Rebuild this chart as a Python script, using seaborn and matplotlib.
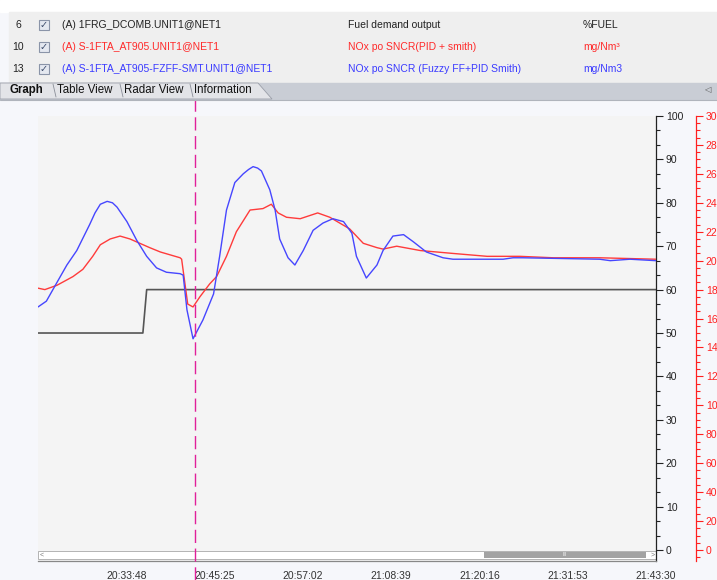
import pandas as pd
import matplotlib.pyplot as plt
from matplotlib.patches import Rectangle, Polygon
from matplotlib.ticker import MultipleLocator
import seaborn as sns

# Dados (tempo em minutos depois de 20:22:11)
inicio = '20:22:11'
fim = '21:43:30'
marcador = '20:42:50'

t_fuel = [0.0, 13.8, 14.3, 81.3]
fuel_demand = [50, 50, 60, 60]

t_pid = [0.0, 0.9, 2.5, 4.6, 5.9, 7.2, 8.2, 9.5, 10.8, 12.1,
         13.4, 14.7, 16.1, 17.4, 18.7, 18.9, 19.7, 20.4, 21.3, 22.6,
         23.5, 24.8, 26.1, 27.9, 29.6, 30.7, 31.6, 32.7, 34.5, 36.8,
         38.4, 41.0, 42.8, 44.6, 45.4, 47.2, 50.3, 54.6, 59.1, 63.4,
         67.8, 73.9, 81.3]
nox_pid = [181, 180, 183, 189, 194, 203, 211, 215, 217, 215,
           212, 209, 206, 204, 202, 201, 170, 168, 175, 184,
           189, 203, 220, 235, 236, 239, 233, 230, 229, 233,
           230, 222, 212, 209, 208, 210, 207, 205, 203, 203,
           202, 202, 201]

t_fuzzy = [0.0, 1.1, 2.5, 3.8, 5.1, 6.8, 7.5, 8.2, 9.1, 9.8, 10.4, 11.7,
           13.0, 14.3, 15.6, 16.9, 18.7, 19.1, 19.6, 20.4, 21.3, 21.7,
           23.1, 23.9, 24.8, 25.9, 27.0, 27.7, 28.3, 28.9, 29.4, 30.5, 31.2, 31.8,
           32.9, 33.8, 34.9, 36.2, 37.5, 38.8, 40.2, 41.3, 41.9, 43.2,
           44.6, 45.4, 46.7, 48.1, 49.4, 51.1, 53.3, 54.6, 61.2, 62.5,
           63.8, 73.9, 75.3, 77.9, 81.3]
nox_fuzzy = [168, 172, 185, 197, 207, 225, 233, 239, 241, 240, 237, 227,
             214, 203, 195, 192, 191, 190, 166, 146, 155, 159,
             177, 203, 235, 254, 260, 263, 265, 264, 262, 249, 235, 215,
             202, 197, 207, 221, 226, 229, 227, 219, 203, 188,
             197, 207, 217, 218, 213, 206, 202, 201, 201, 202,
             202, 201, 200, 201, 200]

x_labels = ['20:33:48', '20:45:25', '20:57:02', '21:08:39',
            '21:20:16', '21:31:53', '21:43:30']

linhas = [
    ('6', '(A) 1FRG_DCOMB.UNIT1@NET1', 'Fuel demand output', '%FUEL', '#222222'),
    ('10', '(A) S-1FTA_AT905.UNIT1@NET1', 'NOx po SNCR(PID + smith)', 'mg/Nm³', '#ff2a2a'),
    ('13', '(A) S-1FTA_AT905-FZFF-SMT.UNIT1@NET1', 'NOx po SNCR (Fuzzy FF+PID Smith)', 'mg/Nm3', '#3b3bff'),
]
abas = ['Graph', 'Table View', 'Radar View', 'Information']

W, H = 717, 580


def hora(txt):
    return pd.Timestamp('2000-01-01 ' + txt)


def serie(tempos, valores):
    t0 = hora(inicio)
    return pd.DataFrame({'tempo': [t0 + pd.Timedelta(minutes=m) for m in tempos],
                         'valor': valores})


def fx(px):
    return px / W


def fy(py):
    return 1 - py / H


def gerar_grafico():
    sns.set_style('white')
    plt.rcParams['font.family'] = ['Liberation Sans', 'DejaVu Sans']

    fig = plt.figure(figsize=(W / 100, H / 100), dpi=100)
    fig.patch.set_facecolor('#f6f7fb')

    # cabeçalho (tabela de sinais)
    fig.add_artist(Rectangle((0, fy(12)), 1, 12 / H, transform=fig.transFigure,
                             color='white', zorder=0))
    fig.add_artist(Rectangle((fx(9), fy(83)), 1, 71 / H, transform=fig.transFigure,
                             color='#efefef', zorder=0))
    ys = [25, 47, 69]
    for (num, tag, desc, unid, cor), y in zip(linhas, ys):
        fig.text(fx(18), fy(y), num, ha='center', va='center', fontsize=7.5, color='#222222')
        fig.add_artist(Rectangle((fx(39), fy(y + 5)), 10 / W, 10 / H, transform=fig.transFigure,
                                 facecolor='#e4e8f0', edgecolor='#8a94a8', lw=0.8))
        fig.text(fx(44), fy(y), '✓', ha='center', va='center', fontsize=7,
                 color='#3a4a6a', family=['DejaVu Sans'])
        fig.text(fx(62), fy(y), tag, ha='left', va='center', fontsize=7.5, color=cor)
        fig.text(fx(348), fy(y), desc, ha='left', va='center', fontsize=7.5, color=cor)
        fig.text(fx(583), fy(y), unid, ha='left', va='center', fontsize=7.5, color=cor)

    # barra de abas
    fig.add_artist(Rectangle((0, fy(99)), 1, 16 / H, transform=fig.transFigure,
                             color='#c9cdd5', zorder=0))
    fig.add_artist(Polygon([(fx(0), fy(83)), (fx(258), fy(83)), (fx(272), fy(99)), (fx(0), fy(99))],
                           closed=True, transform=fig.transFigure, facecolor='#e3e4e8',
                           edgecolor='#9a9ea8', lw=0.6))
    xs_abas = [10, 57, 124, 194]
    for nome, xa in zip(abas, xs_abas):
        fig.text(fx(xa), fy(90), nome, ha='left', va='center', fontsize=8.3,
                 color='#111111', fontweight='bold' if nome == 'Graph' else 'normal')
        if nome != 'Graph':
            fig.add_artist(plt.Line2D([fx(xa - 4), fx(xa - 1)], [fy(84), fy(97)],
                                      transform=fig.transFigure, color='#8a8e98', lw=0.6))
    fig.text(fx(707), fy(90), '◁', ha='center', va='center', fontsize=6,
             color='#555555', family=['DejaVu Sans'])
    fig.add_artist(plt.Line2D([0, 1], [fy(99.5), fy(99.5)], transform=fig.transFigure,
                              color='#b0b4bc', lw=0.8))

    # eixos
    ax = fig.add_axes([fx(38), fy(561), 618 / W, 445 / H])
    ax.set_facecolor('#f4f4f4')
    ax2 = ax.twinx()

    sns.lineplot(data=serie(t_fuel, fuel_demand), x='tempo', y='valor', ax=ax,
                 color='#555555', linewidth=1.2, legend=False)
    sns.lineplot(data=serie(t_pid, nox_pid), x='tempo', y='valor', ax=ax2,
                 color='#ff3b3b', linewidth=1.0, legend=False)
    sns.lineplot(data=serie(t_fuzzy, nox_fuzzy), x='tempo', y='valor', ax=ax2,
                 color='#4646ff', linewidth=1.0, legend=False)

    ax.set_xlim(hora(inicio), hora(fim))
    ax.set_ylim(-2.53, 100)
    ax2.set_ylim(-7.6, 300)

    # eixo do tempo
    ticks = [hora(s) for s in x_labels]
    ax.set_xticks(ticks)
    ax.set_xticklabels(x_labels)
    passo = (ticks[1] - ticks[0]) / 5
    menores = [hora(inicio) + passo * k for k in range(36)]
    ax.set_xticks(menores, minor=True)
    ax.tick_params(axis='x', which='major', direction='out', length=5, width=0.8,
                   color='#777777', labelsize=7.5, labelcolor='#333333', pad=2)
    ax.tick_params(axis='x', which='minor', direction='out', length=3, width=0.8,
                   color='#777777')
    ax.set_xlabel('')

    # eixo preto (%FUEL)
    ax.yaxis.tick_right()
    ax.set_yticks(range(0, 101, 10))
    ax.yaxis.set_minor_locator(MultipleLocator(10 / 3))
    ax.tick_params(axis='y', which='major', direction='out', length=5, width=0.8,
                   color='#222222', labelsize=7.5, labelcolor='#222222', pad=2,
                   left=False, right=True)
    ax.tick_params(axis='y', which='minor', direction='out', length=3, width=0.8,
                   color='#222222', left=False, right=True)
    ax.set_ylabel('')

    # eixo vermelho (mg/Nm3), 40 px à direita do eixo preto
    ax2.spines['right'].set_position(('outward', 40 * 0.72))
    ax2.spines['right'].set_color('#ff2020')
    ax2.set_yticks(range(0, 301, 20))
    ax2.yaxis.set_minor_locator(MultipleLocator(5))
    ax2.tick_params(axis='y', which='major', direction='out', length=5, width=0.8,
                    color='#ff2020', labelsize=7.5, labelcolor='#ff2020', pad=2)
    ax2.tick_params(axis='y', which='minor', direction='out', length=3, width=0.8,
                    color='#ff2020')
    ax2.set_ylabel('')

    for a in (ax, ax2):
        for lado in ('left', 'top'):
            a.spines[lado].set_visible(False)
    ax2.spines['bottom'].set_visible(False)
    ax.spines['right'].set_color('#222222')
    ax.spines['right'].set_linewidth(0.9)
    ax.spines['bottom'].set_color('#888888')
    ax.spines['bottom'].set_linewidth(0.9)
    ax2.spines['right'].set_linewidth(0.9)

    # barra de rolagem
    h_ax = 445
    ax.add_patch(Rectangle((0, 2 / h_ax), 1, 8 / h_ax, transform=ax.transAxes,
                           facecolor='white', edgecolor='#a8a8a8', lw=0.6, zorder=1.5))
    ax.add_patch(Rectangle(((484 - 38) / 618, 3 / h_ax), (646 - 484) / 618, 6 / h_ax,
                           transform=ax.transAxes, facecolor='#a3a3a3', edgecolor='none', zorder=1.6))
    ax.text(0.006, 6 / h_ax, '<', transform=ax.transAxes, ha='center', va='center',
            fontsize=5, color='#777777')
    ax.text(0.994, 6 / h_ax, '>', transform=ax.transAxes, ha='center', va='center',
            fontsize=5, color='#777777')
    ax.text((565 - 38) / 618, 6 / h_ax, 'III', transform=ax.transAxes, ha='center',
            va='center', fontsize=3.5, color='white')

    # linha tracejada do cursor
    ax2.axvline(hora(marcador), ymin=-19 / h_ax, ymax=(561 - 100) / h_ax, clip_on=False,
                color='#e0209a', linewidth=1.0, dashes=(9.5, 4), zorder=10)

    plt.savefig('out.png', dpi=100)
    plt.close()


if __name__ == '__main__':
    gerar_grafico()
